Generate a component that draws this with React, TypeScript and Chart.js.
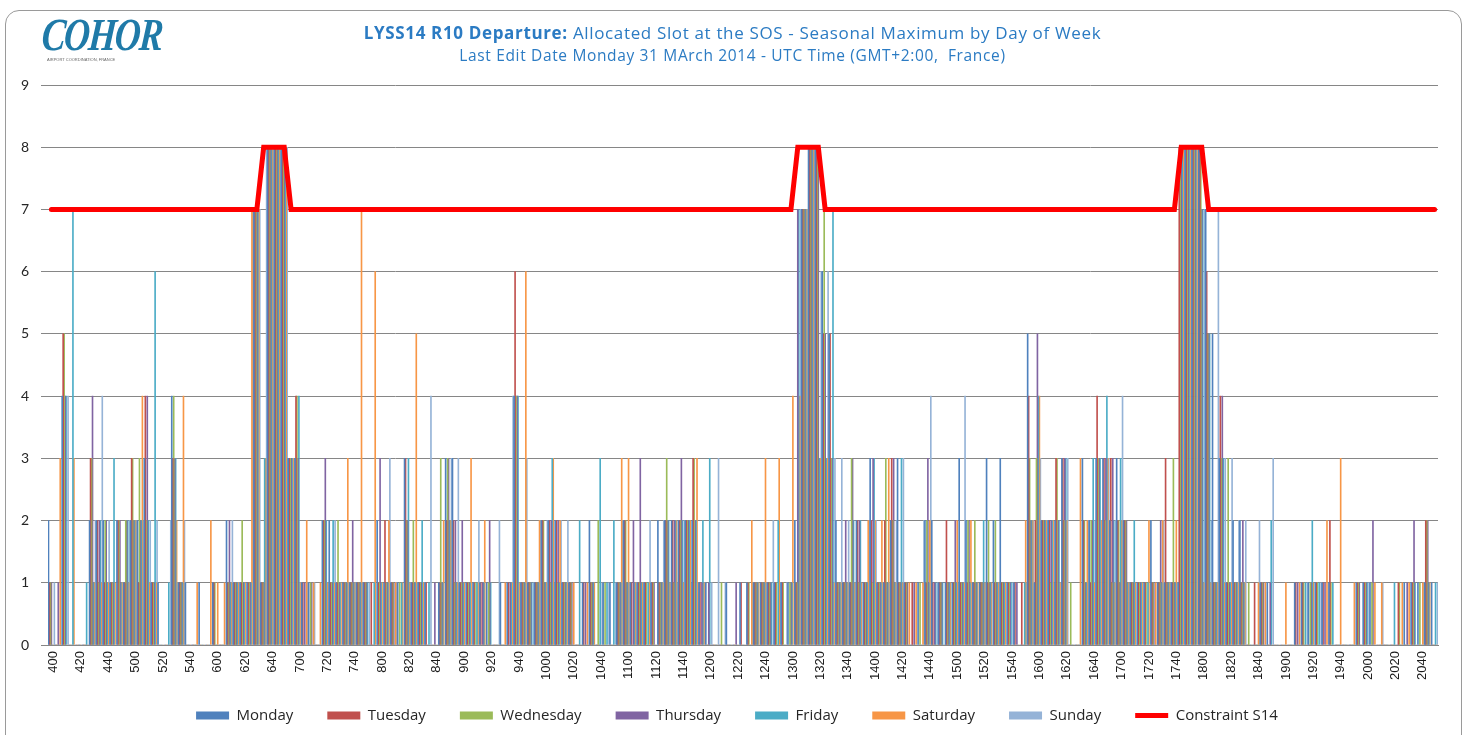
import React, { useEffect, useRef } from 'react';
import { Chart, registerables } from 'chart.js';

Chart.register(...registerables);

const timeLabels = [
  '400','405','410','415','420','425','430','435','440','445','450','455',
  '500','505','510','515','520','525','530','535','540','545','550','555',
  '600','605','610','615','620','625','630','635','640','645','650','655',
  '700','705','710','715','720','725','730','735','740','745','750','755',
  '800','805','810','815','820','825','830','835','840','845','850','855',
  '900','905','910','915','920','925','930','935','940','945','950','955',
  '1000','1005','1010','1015','1020','1025','1030','1035','1040','1045','1050','1055',
  '1100','1105','1110','1115','1120','1125','1130','1135','1140','1145','1150','1155',
  '1200','1205','1210','1215','1220','1225','1230','1235','1240','1245','1250','1255',
  '1300','1305','1310','1315','1320','1325','1330','1335','1340','1345','1350','1355',
  '1400','1405','1410','1415','1420','1425','1430','1435','1440','1445','1450','1455',
  '1500','1505','1510','1515','1520','1525','1530','1535','1540','1545','1550','1555',
  '1600','1605','1610','1615','1620','1625','1630','1635','1640','1645','1650','1655',
  '1700','1705','1710','1715','1720','1725','1730','1735','1740','1745','1750','1755',
  '1800','1805','1810','1815','1820','1825','1830','1835','1840','1845','1850','1855',
  '1900','1905','1910','1915','1920','1925','1930','1935','1940','1945','1950','1955',
  '2000','2005','2010','2015','2020','2025','2030','2035','2040','2045','2050'
];

const monday = [
  2,0,4,0,0,0,2,2,2,1, 2,1,2,2,3,1,1,0,4,1, 1,0,1,0,1,0,2,1,1,1, 7,1,8,8,8,3,3,1,1,0,
  2,2,1,1,1,1,1,0,2,1, 1,1,3,1,1,1,0,1,3,3, 1,1,1,1,1,0,1,1,4,1, 1,1,2,2,2,1,1,0,1,2,
  0,1,1,1,2,1,1,1,1,2, 2,2,2,2,2,1,1,0,0,1, 0,1,1,1,1,1,1,1,1,2, 7,8,8,6,5,2,1,1,2,1,
  3,1,1,2,3,1,0,1,2,2, 1,1,1,3,2,1,1,3,2,3, 1,1,0,5,1,2,2,2,3,0, 0,3,2,3,3,2,3,2,1,1,
  1,2,1,1,1,1,8,8,8,7, 5,3,1,2,2,0,0,1,1,0, 0,0,1,1,1,1,1,1,0,0, 0,1,1,1,0,0,0,0,1,1,
  1,1,1
];
const tuesday = [
  1,0,5,0,0,0,3,2,1,1, 2,1,3,1,4,1,0,0,3,1, 0,0,0,0,1,0,1,1,1,1, 7,1,8,8,8,3,4,1,0,0,
  2,1,1,1,1,1,1,1,1,2, 1,0,3,1,1,1,0,1,2,2, 1,1,1,1,0,0,0,1,6,1, 1,1,2,2,2,1,1,0,1,1,
  0,0,0,1,2,1,1,1,1,1, 2,2,2,2,3,1,0,0,0,0, 0,1,1,1,1,1,1,1,0,1, 7,8,8,5,5,1,1,1,2,1,
  2,1,2,3,1,1,1,0,1,1, 1,2,1,1,1,1,1,1,1,1, 1,1,1,4,2,2,2,3,3,0, 0,2,1,4,3,3,2,2,1,1,
  1,1,1,3,1,8,8,8,8,6, 1,4,1,1,1,0,1,1,0,0, 0,0,1,1,0,1,1,2,0,0, 0,1,1,0,0,0,0,1,0,1,
  0,2,0
];
const wednesday = [
  1,0,5,0,0,0,3,1,2,1, 2,2,3,3,2,1,0,0,4,1, 0,0,0,0,1,0,1,1,2,1, 7,1,8,8,8,3,4,0,1,0,
  2,1,2,1,1,1,1,0,1,1, 1,1,2,2,1,0,0,3,3,1, 1,1,1,0,1,0,0,0,4,1, 1,1,2,1,1,1,1,0,0,1,
  2,1,0,1,2,0,1,1,1,1, 3,1,2,2,3,0,0,0,1,0, 0,0,1,1,1,1,1,1,1,1, 7,8,8,7,3,1,1,3,1,1,
  1,1,3,2,1,1,0,1,2,0, 1,1,1,1,2,2,1,2,2,1, 1,0,0,3,3,2,1,3,2,1, 0,2,2,3,2,1,2,2,1,1,
  1,1,1,1,3,8,8,8,8,5, 1,3,3,1,1,1,0,1,0,0, 0,0,0,1,1,1,0,1,0,0, 0,1,1,1,0,0,0,1,0,1,
  1,2,0
];
const thursday = [
  1,1,4,0,0,0,4,2,2,1, 2,2,2,2,4,1,0,0,3,1, 0,0,0,0,0,0,2,1,1,1, 7,1,8,8,8,3,3,1,1,0,
  3,1,1,1,2,1,1,0,3,1, 1,0,2,1,1,0,1,1,3,2, 2,1,0,1,2,0,0,1,4,1, 1,1,1,2,2,1,1,0,1,1,
  0,0,0,1,1,2,3,0,1,1, 2,2,3,2,2,1,1,0,0,0, 1,0,0,1,1,1,0,0,1,7, 7,8,8,5,3,1,2,3,2,1,
  3,1,1,3,1,1,1,0,3,1, 1,1,2,1,2,1,1,1,1,1, 1,1,0,2,5,2,2,2,3,0, 0,1,2,3,3,3,1,2,1,1,
  0,1,2,1,1,8,8,8,7,5, 1,4,1,1,2,0,0,1,1,0, 0,0,1,0,1,0,1,0,0,0, 0,1,1,2,0,0,0,0,1,2,
  0,2,0
];
const friday = [
  0,0,4,7,0,1,1,2,1,3, 1,2,2,2,2,6,0,1,3,1, 0,0,0,0,0,0,1,1,1,1, 7,3,8,8,8,3,4,0,0,0,
  2,2,1,1,1,1,1,1,1,1, 0,1,3,1,2,1,0,1,2,1, 1,1,1,1,1,0,0,1,4,1, 1,1,1,3,1,1,0,2,0,1,
  3,1,2,1,1,1,1,1,0,1, 2,2,2,2,2,2,3,0,0,0, 0,0,0,1,1,1,2,0,1,7, 7,8,3,3,7,1,1,2,2,1,
  3,1,1,1,3,0,0,0,1,1, 1,1,1,1,1,1,2,1,1,1, 1,0,1,2,4,2,2,2,3,0, 0,1,3,3,4,2,3,1,2,1,
  1,0,1,1,1,8,8,8,7,5, 1,3,1,1,1,0,0,0,2,0, 0,0,0,1,2,1,0,1,0,0, 0,0,1,0,0,0,1,0,0,1,
  0,1,1
];
const saturday = [
  0,3,0,3,0,0,1,1,1,1, 1,1,2,4,1,1,0,0,2,4, 0,1,0,2,1,1,1,1,1,7, 7,3,8,8,8,3,1,2,1,1,
  1,1,1,3,1,7,0,6,1,2, 1,1,1,5,1,0,0,2,2,1, 1,3,1,2,0,0,1,1,1,6, 0,2,1,3,2,1,1,0,1,1,
  0,0,0,3,3,1,1,1,0,1, 1,2,1,2,3,1,0,0,0,0, 0,0,2,1,3,0,3,0,4,4, 7,8,3,3,1,1,1,1,1,2,
  2,2,3,1,1,1,1,1,2,0, 0,1,2,1,2,1,1,1,1,1, 0,0,2,2,4,2,2,1,2,0, 3,2,1,2,3,1,2,1,1,1,
  2,1,2,1,2,8,8,8,1,1, 1,1,1,1,1,0,1,1,0,0, 1,0,1,0,1,0,2,0,3,0, 1,0,0,1,1,0,0,1,1,0,
  1,1,0
];
const sunday = [
  1,0,4,0,0,0,2,4,2,0, 1,2,2,2,2,2,0,2,1,2, 0,0,0,0,0,0,2,1,0,7, 7,8,8,8,8,3,1,1,1,0,
  1,2,0,1,1,1,1,0,0,3, 1,0,1,1,1,4,0,0,3,3, 0,0,2,0,0,2,0,4,1,3, 1,2,2,1,2,2,0,0,0,0,
  1,1,1,2,1,1,1,2,0,2, 1,1,2,1,1,1,1,3,1,0, 0,0,1,0,1,2,1,1,0,7, 7,8,6,6,3,3,2,1,0,2,
  2,1,1,2,3,0,0,2,4,1, 0,0,1,4,1,0,1,0,1,0, 1,0,1,2,3,2,1,1,3,0, 0,2,2,2,3,2,4,1,0,0,
  0,0,2,1,1,8,8,8,7,2, 7,3,3,2,2,0,2,0,3,0, 0,0,0,1,0,1,0,0,0,0, 0,0,1,0,1,0,0,0,0,0,
  1,0,1
];
const constraintS14 = [
  7,7,7,7,7,7,7,7,7,7,7,7,
  7,7,7,7,7,7,7,7,7,7,7,7,
  7,7,7,7,7,7,7,8,8,8,8,7,
  7,7,7,7,7,7,7,7,7,7,7,7,
  7,7,7,7,7,7,7,7,7,7,7,7,
  7,7,7,7,7,7,7,7,7,7,7,7,
  7,7,7,7,7,7,7,7,7,7,7,7,
  7,7,7,7,7,7,7,7,7,7,7,7,
  7,7,7,7,7,7,7,7,7,7,7,7,
  7,8,8,8,8,7,7,7,7,7,7,7,
  7,7,7,7,7,7,7,7,7,7,7,7,
  7,7,7,7,7,7,7,7,7,7,7,7,
  7,7,7,7,7,7,7,7,7,7,7,7,
  7,7,7,7,7,7,7,7,7,8,8,8,
  8,7,7,7,7,7,7,7,7,7,7,7,
  7,7,7,7,7,7,7,7,7,7,7,7,
  7,7,7,7,7,7,7,7,7,7,7
];

const dayNames = ['Monday', 'Tuesday', 'Wednesday', 'Thursday', 'Friday', 'Saturday', 'Sunday'];
const daySeries = [monday, tuesday, wednesday, thursday, friday, saturday, sunday];
const dayColors = ['#4F81BD', '#C0504D', '#9BBB59', '#8064A2', '#4BACC6', '#F79646', '#95B3D7'];

// widens the scale boxes after layout so tick labels are not clipped
const widenScaleBoxes = {
  id: 'widenScaleBoxes',
  afterLayout(chart: any) {
    const x = chart.scales.x;
    x.bottom = x.top + 70;
    x.height = 70;
    const y = chart.scales.y;
    y.left = 0;
    y.width = y.right;
  },
};

export default function App() {
  const canvasRef = useRef<HTMLCanvasElement | null>(null);

  useEffect(() => {
    const canvas = canvasRef.current;
    if (!canvas) return;
    const barSets: any[] = dayNames.map((name, i) => ({
      type: 'bar',
      label: name,
      data: daySeries[i],
      backgroundColor: dayColors[i],
      borderWidth: 0,
      pointStyle: 'rect',
      barPercentage: 1,
      categoryPercentage: 1,
      order: 1,
    }));
    const lineSet: any = {
      type: 'line',
      label: 'Constraint S14',
      data: constraintS14,
      borderColor: '#FF0000',
      backgroundColor: '#FF0000',
      borderWidth: 5,
      pointRadius: 0,
      pointHoverRadius: 0,
      pointStyle: 'line',
      tension: 0,
      fill: false,
      order: 0,
      borderJoinStyle: 'miter',
      borderCapStyle: 'round',
    };
    const chart = new Chart(canvas, {
      type: 'bar',
      data: { labels: timeLabels, datasets: [...barSets, lineSet] },
      plugins: [widenScaleBoxes],
      options: {
        responsive: false,
        animation: false,
        events: [],
        layout: { padding: { left: 36, right: 31, top: 85, bottom: 2 } },
        plugins: {
          title: { display: false },
          tooltip: { enabled: false },
          legend: {
            display: true,
            position: 'bottom',
            labels: {
              usePointStyle: true,
              pointStyleWidth: 33,
              boxHeight: 8,
              padding: 34,
              color: '#262626',
              font: { family: 'Open Sans', size: 15 },
              sort: (a: any, b: any) => a.datasetIndex - b.datasetIndex,
            },
          },
        },
        scales: {
          x: {
            type: 'category',
            offset: true,
            grid: { display: false, drawTicks: false },
            border: { display: true, color: '#868686', width: 1 },
            ticks: {
              autoSkip: false,
              maxRotation: 90,
              minRotation: 90,
              padding: 6,
              labelOffset: 2,
              color: '#1a1a1a',
              font: { family: 'Liberation Sans', size: 13 },
              callback: (_v: any, i: number) => (i % 4 === 0 ? timeLabels[i] : ''),
            },
            afterFit: (s: any) => { s.height = 29; },
          },
          y: {
            min: 0,
            max: 9,
            grid: { color: '#868686', lineWidth: 1, drawTicks: true, tickLength: 7 },
            border: { display: false },
            ticks: {
              stepSize: 1,
              padding: 12,
              color: '#262626',
              font: { family: 'Lato', size: 14 },
            },
            afterFit: (s: any) => { s.width = 12; },
          },
        },
      } as any,
    });
    return () => chart.destroy();
  }, []);

  return (
    <div style={{ position: 'absolute', left: 0, top: 0, width: 1469, height: 735, overflow: 'hidden', background: '#ffffff' }}>
      <div style={{ position: 'absolute', left: 5, top: 10, width: 1457, height: 760, border: '1px solid #9a9a9a', borderRadius: 14, boxSizing: 'border-box' }} />
      <canvas ref={canvasRef} width={1469} height={735} style={{ position: 'absolute', left: 0, top: 0 }} />
      <div style={{ position: 'absolute', left: 44, top: 10, fontFamily: 'Liberation Serif', fontStyle: 'italic', fontWeight: 'bold', fontSize: 46, lineHeight: '50px', color: '#1f7aa8', transform: 'scaleX(0.78) skewX(-6deg)', transformOrigin: 'left top', letterSpacing: -2 }}>COHOR</div>
      <div style={{ position: 'absolute', left: 47, top: 58, fontFamily: 'Liberation Sans', fontSize: 8, lineHeight: '8px', color: '#666', transform: 'scale(0.5)', transformOrigin: 'left top', whiteSpace: 'nowrap' }}>AIRPORT COORDINATION, FRANCE</div>
      <div style={{ position: 'absolute', left: -2, top: 22, width: 1469, textAlign: 'center', fontFamily: 'Open Sans', fontSize: 17, letterSpacing: 0.65, lineHeight: '22px', color: '#2b7bc3', whiteSpace: 'nowrap' }}>
        <b>LYSS14 R10 Departure:</b> Allocated Slot at the SOS - Seasonal Maximum by Day of Week
      </div>
      <div style={{ position: 'absolute', left: -2, top: 46, width: 1469, textAlign: 'center', fontFamily: 'Open Sans', fontSize: 15.5, letterSpacing: 0.65, lineHeight: '18px', color: '#2b7bc3', whiteSpace: 'nowrap' }}>
        Last Edit Date Monday 31 MArch 2014 - UTC Time (GMT+2:00,&nbsp; France)
      </div>
    </div>
  );
}
